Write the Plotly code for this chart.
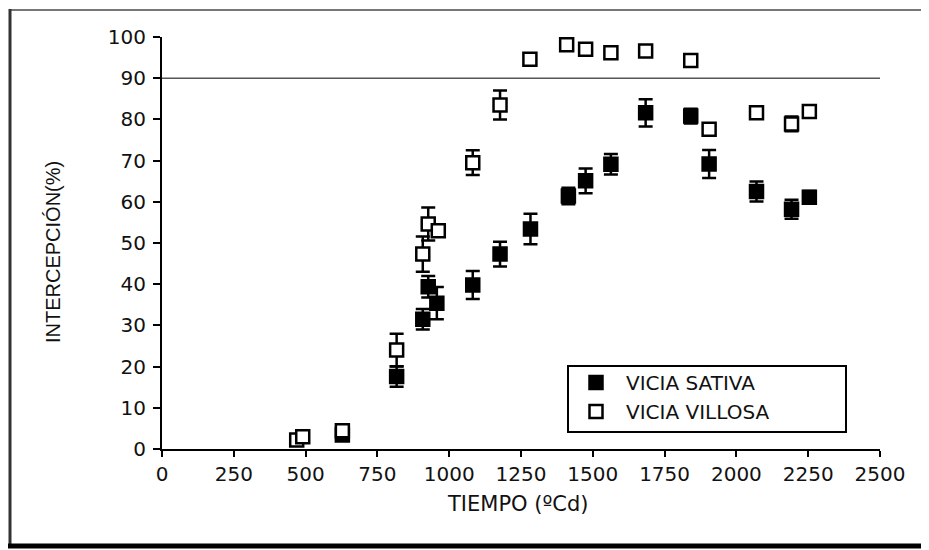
import plotly.graph_objects as go

# ---- data ----
sativa_x = [628, 817, 908, 927, 957, 1082, 1177, 1283, 1415, 1475, 1563, 1684, 1841, 1905, 2070, 2192, 2254]
sativa_y = [3.4, 17.6, 31.5, 39.4, 35.4, 39.8, 47.3, 53.4, 61.4, 65.1, 69.1, 81.6, 80.8, 69.2, 62.5, 58.2, 61.1]
sativa_err = [1.0, 2.5, 2.5, 2.6, 3.9, 3.4, 3.0, 3.7, 2.0, 3.0, 2.5, 3.3, 1.8, 3.4, 2.4, 2.3, 1.5]

villosa_x = [469, 490, 628, 817, 908, 927, 962, 1082, 1177, 1281, 1409, 1475, 1563, 1684, 1841, 1905, 2070, 2192, 2254]
villosa_y = [2.2, 3.0, 4.4, 24.0, 47.3, 54.6, 53.0, 69.5, 83.5, 94.6, 98.1, 97.0, 96.2, 96.6, 94.3, 77.6, 81.6, 78.9, 81.9]
villosa_err = [0.5, 0.5, 0.8, 4.0, 4.3, 4.0, 1.5, 3.0, 3.5, 1.4, 0.5, 0.5, 0.5, 0.8, 0.8, 1.0, 1.0, 1.8, 0.8]

series_names = ["VICIA SATIVA", "VICIA VILLOSA"]
x_ticks = [0, 250, 500, 750, 1000, 1250, 1500, 1750, 2000, 2250, 2500]
y_ticks = [0, 10, 20, 30, 40, 50, 60, 70, 80, 90, 100]
threshold = 90
x_title = "TIEMPO (ºCd)"
y_title = "INTERCEPCIÓN(%)"

# ---- layout geometry (page pixels; the page body has an 8 px margin) ----
OFF = 8
W, H = 929 - OFF, 550 - OFF
PX0, PX1, PY0, PY1 = 162, 880, 37, 449   # plot area in page pixels
L, T = PX0 - OFF, PY0 - OFF
R, B = W - (PX1 - OFF), H - (PY1 - OFF)
PW, PH = PX1 - PX0, PY1 - PY0


def px_x(p):
    return (p - PX0) / PW


def px_y(p):
    return (PY1 - p) / PH


fig = go.Figure()

fig.add_trace(go.Scatter(
    x=sativa_x, y=sativa_y, mode="markers", name=series_names[0],
    marker=dict(symbol="square", size=13, color="black", line=dict(color="black", width=2.5)),
    error_y=dict(type="data", array=sativa_err, visible=True, color="black", thickness=2.5, width=7),
    cliponaxis=False,
))
fig.add_trace(go.Scatter(
    x=villosa_x, y=villosa_y, mode="markers", name=series_names[1],
    marker=dict(symbol="square", size=13, color="white", line=dict(color="black", width=2.5)),
    error_y=dict(type="data", array=villosa_err, visible=True, color="black", thickness=2.5, width=7),
    cliponaxis=False,
))

# reference line at 90 %
fig.add_shape(type="line", xref="x", yref="y", x0=x_ticks[0], x1=x_ticks[-1], y0=threshold, y1=threshold,
              line=dict(color="#555555", width=1.5), layer="below")

# outer frame
fig.add_shape(type="line", xref="paper", yref="paper", x0=px_x(9), x1=px_x(935), y0=px_y(10), y1=px_y(10),
              line=dict(color="#777777", width=2))
fig.add_shape(type="line", xref="paper", yref="paper", x0=px_x(10), x1=px_x(10), y0=px_y(9), y1=px_y(546),
              line=dict(color="#333333", width=3))
fig.add_shape(type="line", xref="paper", yref="paper", x0=px_x(8), x1=px_x(935), y0=px_y(546), y1=px_y(546),
              line=dict(color="black", width=5))

# legend box
fig.add_shape(type="rect", xref="paper", yref="paper", x0=px_x(568), x1=px_x(846), y0=px_y(366), y1=px_y(432),
              line=dict(color="black", width=2), fillcolor="white", layer="above")

fig.add_annotation(text=x_title, xref="paper", yref="paper", x=px_x(518), y=px_y(504),
                   showarrow=False, font=dict(family="DejaVu Sans", size=21, color="#111111"),
                   xanchor="center", yanchor="middle")
fig.add_annotation(text=y_title, xref="paper", yref="paper", x=px_x(53), y=px_y(252),
                   showarrow=False, textangle=-90, font=dict(family="Liberation Sans", size=20, color="#111111"),
                   xanchor="center", yanchor="middle")

fig.update_layout(
    width=W, height=H,
    margin=dict(l=L, r=R, t=T, b=B, pad=0),
    paper_bgcolor="white", plot_bgcolor="white",
    font=dict(family="DejaVu Sans", color="#111111"),
    showlegend=True,
    legend=dict(x=px_x(566), y=px_y(363), xanchor="left", yanchor="top",
                borderwidth=0, bgcolor="rgba(0,0,0,0)",
                font=dict(family="DejaVu Sans", size=20, color="#111111"),
                itemwidth=50, tracegroupgap=0),
    xaxis=dict(range=[x_ticks[0], x_ticks[-1]], tickvals=x_ticks, showgrid=False, zeroline=False,
               showline=True, linecolor="black", linewidth=2,
               ticks="outside", ticklen=6, tickwidth=2, tickcolor="black",
               tickfont=dict(family="DejaVu Sans", size=20, color="#111111")),
    yaxis=dict(range=[y_ticks[0], y_ticks[-1]], tickvals=y_ticks, showgrid=False, zeroline=False,
               showline=True, linecolor="black", linewidth=2,
               ticks="outside", ticklen=7, tickwidth=2, tickcolor="black", ticklabelstandoff=3,
               tickfont=dict(family="DejaVu Sans", size=20, color="#111111")),
)

fig.write_html("out.html")
